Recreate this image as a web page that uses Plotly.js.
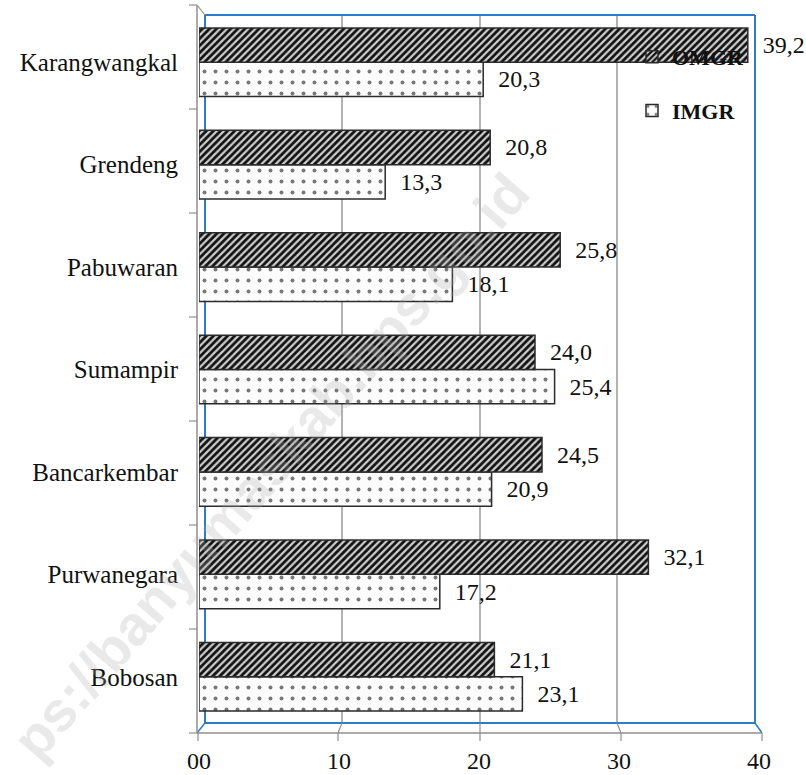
<!DOCTYPE html>
<html>
<head>
<meta charset="utf-8">
<script src="https://cdn.plot.ly/plotly-3.0.1.min.js"></script>
<style>html,body{margin:0;padding:0;background:#fff;}#chart{width:806px;height:775px;}</style>
</head>
<body>
<div id="chart"></div>
<script>
// Data (bottom to top)
const categories = ["Bobosan", "Purwanegara", "Bancarkembar", "Sumampir", "Pabuwaran", "Grendeng", "Karangwangkal"];
const omgr = [21.1, 32.1, 24.5, 24.0, 25.8, 20.8, 39.2];
const imgr = [23.1, 17.2, 20.9, 25.4, 18.1, 13.3, 20.3];
const xTickVals = [0, 10, 20, 30, 40];
const xTickText = ["00", "10", "20", "30", "40"];
const watermark = "ps://banyumaskab.bps.go.id";

// Layout geometry (pixels)
const W = 806, H = 775;
const L = 199, R = 759, T = 11, B = 728;
const px = x => (x - L) / (R - L);
const py = y => (B - y) / (B - T);

const serif = "Liberation Serif, Times New Roman, serif";
const gray = "#8f8f8f";
const blue = "#2f7bc4";

function line(x0, y0, x1, y1, color, width, layer) {
  return {type: "line", xref: "paper", yref: "paper",
    x0: px(x0), y0: py(y0), x1: px(x1), y1: py(y1),
    line: {color: color, width: width}, layer: layer || "below"};
}

const shapes = [];
// back wall gridlines
[342, 480, 617].forEach(x => shapes.push(line(x, 15, x, 723, "#9a9a9a", 1.5)));
// back wall
shapes.push(line(205, 15, 755, 15, blue, 2));
shapes.push(line(755, 15, 755, 723, blue, 2));
shapes.push(line(205, 723, 755, 723, blue, 2));
shapes.push(line(205, 15, 205, 723, blue, 2));
// floor
shapes.push(line(755, 723, 762, 733, blue, 1.5));
shapes.push(line(205, 723, 197, 733, blue, 1.5));
shapes.push(line(197, 733, 762, 733, gray, 1.5, "above"));
[[342, 338], [480, 480], [617, 621]].forEach(p => shapes.push(line(p[0], 723, p[1], 733, gray, 1.2)));
[198, 338, 480, 621, 762].forEach(x => shapes.push(line(x, 733, x, 741, gray, 1.2, "above")));
// front left axis
shapes.push(line(197, 5, 197, 733, gray, 1.5, "above"));
shapes.push(line(197, 5, 205, 15, gray, 1.2));
for (let k = 0; k <= 7; k++) {
  const y = 5 + 104 * k;
  shapes.push(line(189, y, 197, y, gray, 1.2, "above"));
}

const traces = [
  {
    type: "bar", orientation: "h", name: "IMGR", legendgroup: "b", legendrank: 2,
    y: categories, x: imgr,
    marker: {color: "#ffffff", line: {color: "#2b2b2b", width: 1.5},
      pattern: {shape: ".", fgcolor: "#777777", bgcolor: "#fcfcfc", size: 11, solidity: 0.1}},
    texttemplate: "\u00a0\u00a0%{x:.1f}", textposition: "outside", cliponaxis: false,
    constraintext: "none",
    textfont: {family: serif, size: 24, color: "#111"},
    hoverinfo: "x+y"
  },
  {
    type: "bar", orientation: "h", name: "OMGR", legendgroup: "a", legendrank: 1,
    y: categories, x: omgr,
    marker: {color: "#444444", line: {color: "#2b2b2b", width: 1.5},
      pattern: {shape: "/", fgcolor: "#111111", bgcolor: "#cfcfcf", size: 5, solidity: 0.55}},
    texttemplate: "\u00a0\u00a0%{x:.1f}", textposition: "outside", cliponaxis: false,
    constraintext: "none",
    textfont: {family: serif, size: 24, color: "#111"},
    hoverinfo: "x+y"
  }
];

const layout = {
  width: W, height: H,
  margin: {l: L, r: W - R, t: T, b: H - B, pad: 0},
  paper_bgcolor: "#ffffff", plot_bgcolor: "rgba(0,0,0,0)",
  separators: ", ",
  barmode: "group", bargap: 0.33, bargroupgap: 0,
  showlegend: true,
  legend: {x: px(632), y: py(36), xanchor: "left", yanchor: "top",
    bgcolor: "rgba(0,0,0,0)", traceorder: "grouped", tracegroupgap: 22,
    font: {family: serif, size: 22, color: "#111", weight: "bold"}},
  xaxis: {range: [0, 40], tickvals: xTickVals, ticktext: xTickText,
    showgrid: false, zeroline: false, showline: false, ticks: "",
    ticklabelstandoff: 16,
    tickfont: {family: serif, size: 24, color: "#111"}, fixedrange: true},
  yaxis: {type: "category", categoryorder: "array", categoryarray: categories,
    range: [-0.5, 6.5], showgrid: false, zeroline: false, showline: false, ticks: "",
    ticklabelstandoff: 20,
    tickfont: {family: serif, size: 25, color: "#111"}, fixedrange: true},
  shapes: shapes,
  annotations: [{
    text: watermark, xref: "paper", yref: "paper",
    x: px(270), y: py(466), xanchor: "center", yanchor: "middle",
    showarrow: false, textangle: -49,
    font: {family: "Liberation Sans, Arial, sans-serif", size: 56, color: "rgba(170,170,170,0.26)", weight: "bold"}
  }]
};

Plotly.newPlot("chart", traces, layout, {displayModeBar: false, staticPlot: true});
</script>
</body>
</html>
